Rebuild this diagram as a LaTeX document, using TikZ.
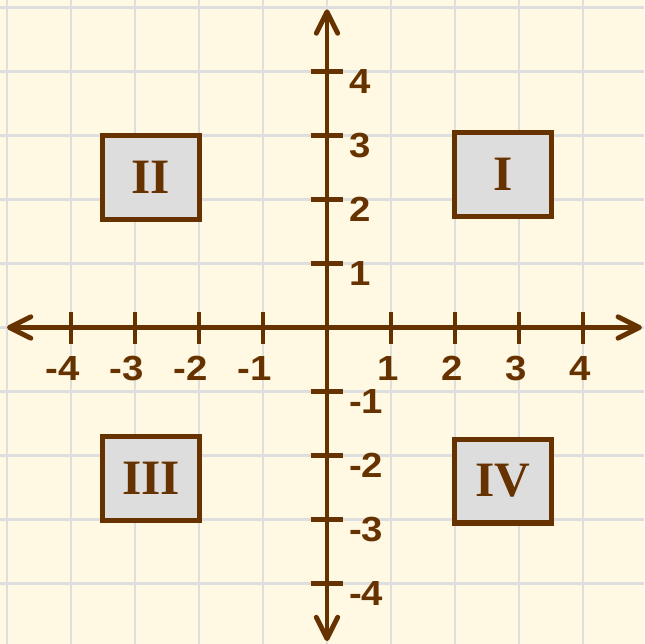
\documentclass[tikz,border=0pt]{standalone}
\usepackage{fontspec}
\newfontfamily\lblfont{Liberation Sans}[FakeStretch=1.1]
\newfontfamily\romfont{Liberation Serif}
\usetikzlibrary{arrows.meta}
\definecolor{axisbrown}{RGB}{102,51,0}
\definecolor{cream}{RGB}{255,248,227}
\definecolor{gridgray}{RGB}{222,222,222}
\definecolor{boxgray}{RGB}{221,221,221}
\begin{document}
\begin{tikzpicture}[x=1cm,y=1cm,
  gridline/.style={draw=gridgray, line width=1.2pt},
  axisline/.style={draw=axisbrown, line width=2.2pt, {Straight Barb[length=9.5pt,width=9.5pt,round]}-{Straight Barb[length=9.5pt,width=9.5pt,round]}},
  tickmark/.style={draw=axisbrown, line width=2.2pt},
  ticklabel/.style={text=axisbrown, font=\lblfont\bfseries\fontsize{15.5}{17}\selectfont, inner sep=0pt},
  quadbox/.style={draw=axisbrown, fill=boxgray, line width=2.35pt, minimum width=1.51cm, minimum height=1.31cm, inner sep=0pt, text=axisbrown, font=\romfont\bfseries\fontsize{22}{24}\selectfont}]
\path[fill=cream] (-5.109,-4.945) rectangle (4.953,5.117);
\useasboundingbox (-5.109,-4.945) rectangle (4.953,5.117);
\begin{scope}
\clip (-5.109,-4.945) rectangle (4.953,5.117);
\foreach \i in {-5,...,4} \draw[gridline] (\i,-5.2) -- (\i,5.2);
\foreach \j in {-4,...,5} \draw[gridline] (-5.2,\j) -- (5.2,\j);
\end{scope}
% quadrant boxes
\node[quadbox] (qI) at (2.75,2.39) {I};
\node[quadbox] (qII) at (-2.75,2.34) {II};
\node[quadbox] (qIII) at (-2.75,-2.36) {III};
\node[quadbox] (qIV) at (2.75,-2.40) {IV};
% axes
\coordinate (xl) at (-5,0);
\coordinate (xr) at (4.92,0);
\coordinate (yb) at (0,-4.9);
\coordinate (yt) at (0,4.97);
\draw[axisline] (xl) -- (xr);
\draw[axisline] (yb) -- (yt);
% ticks
\foreach \i in {-4,-3,-2,-1,1,2,3,4} {
  \draw[tickmark] (\i,-0.25) -- (\i,0.25);
  \draw[tickmark] (-0.25,\i) -- (0.25,\i);
}
% x labels
\foreach \i in {1,2,3,4} \node[ticklabel] (xlab\i) at (\i-0.04,-0.64) {\i};
\foreach \i in {-4,-3,-2,-1} \node[ticklabel] (xlabm\i) at (\i-0.13,-0.64) {\i};
% y labels
\foreach \i in {-4,-3,-2,-1,1,2,3,4} \node[ticklabel, anchor=west] (ylab\i) at (0.34,\i-0.16) {\i};
\end{tikzpicture}
\end{document}
